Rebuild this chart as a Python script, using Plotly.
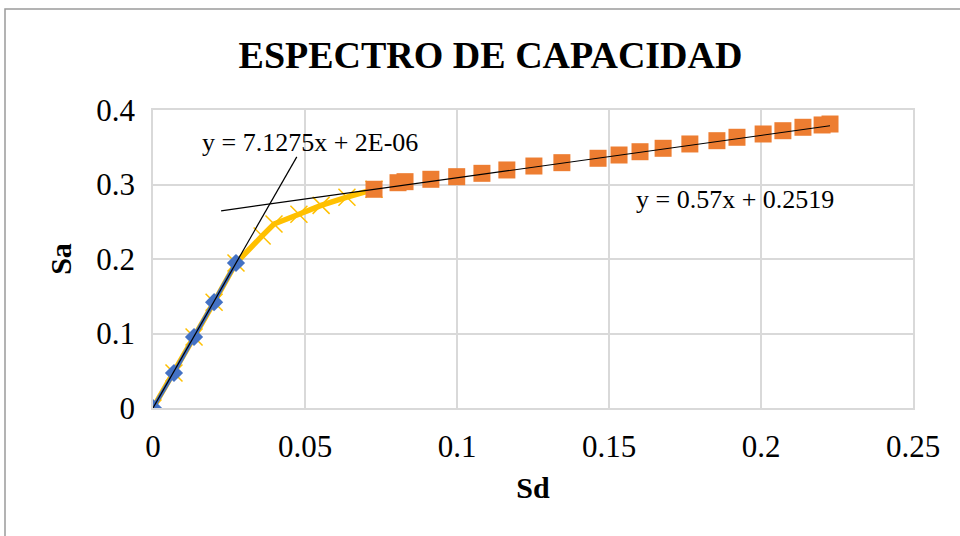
import numpy as np
import plotly.graph_objects as go

# ---- data ----
elastic_sd = [0.0, 0.0069, 0.0135, 0.0201, 0.0273]
elastic_sa = [0.0, 0.047, 0.0953, 0.142, 0.1946]

curve_sd = [0.0, 0.0069, 0.0135, 0.0201, 0.0273, 0.0359, 0.0398, 0.0480, 0.0553, 0.0638, 0.0727]
curve_sa = [0.0, 0.047, 0.0953, 0.142, 0.1946, 0.231, 0.247, 0.260, 0.272, 0.283, 0.2936]

plastic_sd = [0.0727, 0.0806, 0.0829, 0.0914, 0.0999, 0.1082, 0.1164, 0.1253, 0.1345,
              0.1464, 0.1533, 0.1602, 0.1678, 0.1766, 0.1855, 0.1921, 0.2007, 0.2072,
              0.2138, 0.2201, 0.2227]
plastic_sa = [0.2936, 0.3024, 0.3038, 0.3070, 0.3105, 0.3150, 0.3195, 0.3248, 0.3293,
              0.3352, 0.3396, 0.3440, 0.3486, 0.3544, 0.3588, 0.3634, 0.3678, 0.3722,
              0.3768, 0.3799, 0.3812]

trend1_coef = [7.1275, 2e-06]   # y = 7.1275x + 2E-06
trend1_range = [0.0, 0.0473]
trend2_coef = [0.57, 0.2519]    # y = 0.57x + 0.2519
trend2_range = [0.0224, 0.2227]

title_text = "ESPECTRO DE CAPACIDAD"
x_title = "Sd"
y_title = "Sa"
x_ticks = [0, 0.05, 0.1, 0.15, 0.2, 0.25]
x_ticklabels = ["0", "0.05", "0.1", "0.15", "0.2", "0.25"]
y_ticks = [0, 0.1, 0.2, 0.3, 0.4]
y_ticklabels = ["0", "0.1", "0.2", "0.3", "0.4"]

FONT = "Liberation Serif, Times New Roman, serif"

fig = go.Figure()

fig.add_trace(go.Scatter(
    x=curve_sd, y=curve_sa, mode="lines+markers",
    line=dict(color="#FFC000", width=5.5),
    marker=dict(symbol="x-thin", size=17, line=dict(color="#FFC000", width=1.5)),
    showlegend=False))

fig.add_trace(go.Scatter(
    x=elastic_sd, y=elastic_sa, mode="lines+markers",
    line=dict(color="#4472C4", width=4),
    marker=dict(symbol="diamond", size=14, color="#4472C4"),
    showlegend=False))

fig.add_trace(go.Scatter(
    x=plastic_sd, y=plastic_sa, mode="markers",
    marker=dict(symbol="square", size=17, color="#ED7D31"),
    showlegend=False))

t1x = np.array(trend1_range)
fig.add_trace(go.Scatter(x=t1x, y=np.polyval(trend1_coef, t1x), mode="lines",
                         line=dict(color="black", width=1.2), showlegend=False))
t2x = np.array(trend2_range)
fig.add_trace(go.Scatter(x=t2x, y=np.polyval(trend2_coef, t2x), mode="lines",
                         line=dict(color="black", width=1.2), showlegend=False))

fig.add_annotation(x=0.0516, y=0.356, text="y = 7.1275x + 2E-06", showarrow=False,
                   font=dict(family=FONT, size=26, color="black"))
fig.add_annotation(x=0.1914, y=0.2805, text="y = 0.57x + 0.2519", showarrow=False,
                   font=dict(family=FONT, size=26, color="black"))

L, R, T, B = 153, 47, 110, 128
W, H = 960, 536
pw, ph = W - L - R, H - T - B
# chart outer border (left and top visible)
fig.add_shape(type="rect", xref="paper", yref="paper",
              x0=(5 - L) / pw, x1=(975 - L) / pw,
              y0=(H - B - 560) / ph, y1=(H - B - 9) / ph,
              line=dict(color="#9a9a9a", width=1.5), layer="below")

fig.update_layout(
    width=W, height=H,
    margin=dict(l=L, r=R, t=T, b=B),
    paper_bgcolor="white", plot_bgcolor="white",
    title=dict(text="<b>" + title_text + "</b>", x=0.5 * (236 + 745) / W, xanchor="center",
               y=1 - 55 / H, yanchor="middle",
               font=dict(family=FONT, size=38, color="black")),
    font=dict(family=FONT, color="black"),
)
fig.update_xaxes(range=[0, 0.25], tickvals=x_ticks, ticktext=x_ticklabels,
                 showgrid=True, gridcolor="#d9d9d9", gridwidth=1.5,
                 zeroline=False, showline=True, linecolor="#d9d9d9", linewidth=1.5,
                 mirror=True, ticks="", ticklabelstandoff=10,
                 tickfont=dict(family=FONT, size=31, color="black"),
                 title=dict(text="<b>" + x_title + "</b>", standoff=14,
                            font=dict(family=FONT, size=30, color="black")))
fig.update_yaxes(range=[0, 0.4], tickvals=y_ticks, ticktext=y_ticklabels,
                 showgrid=True, gridcolor="#d9d9d9", gridwidth=1.5,
                 zeroline=False, showline=True, linecolor="#d9d9d9", linewidth=1.5,
                 mirror=True, ticks="", ticklabelstandoff=10,
                 tickfont=dict(family=FONT, size=31, color="black"),
                 title=dict(text="<b>" + y_title + "</b>", standoff=16,
                            font=dict(family=FONT, size=30, color="black")))

fig.write_html("out.html", config={"displayModeBar": False},
               post_script="document.body.style.margin='0';document.body.style.padding='0';")
